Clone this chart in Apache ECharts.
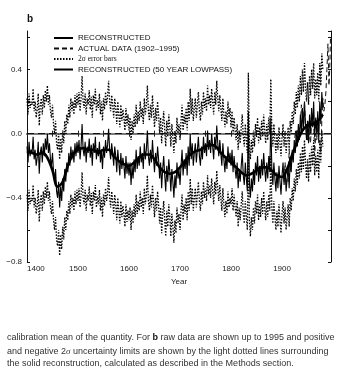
<!DOCTYPE html>
<html>
<head>
<meta charset="utf-8">
<script src="https://cdn.jsdelivr.net/npm/echarts@6/dist/echarts.min.js"></script>
<style>
html,body{margin:0;padding:0;background:#fff;}
#chart{width:345px;height:378px;}
</style>
</head>
<body>
<div id="chart"></div>
<script>
// ---- data ----
const reconStartYear = 1400;
const reconStep = 2;
const reconValues = [
-0.08,-0.18,-0.05,-0.14,-0.10,
-0.12,-0.02,-0.16,-0.10,-0.20,
-0.15,-0.05,-0.25,-0.12,-0.08,
-0.18,-0.06,-0.14,-0.03,-0.10,
0.00,-0.12,-0.06,-0.16,-0.20,
-0.12,-0.24,-0.30,-0.22,-0.36,
-0.40,-0.30,-0.46,-0.33,-0.42,
-0.28,-0.36,-0.22,-0.30,-0.18,
-0.24,-0.12,-0.20,-0.08,-0.16,
-0.10,-0.18,-0.06,-0.14,-0.05,
-0.12,-0.04,-0.16,-0.08,0.06,
-0.10,-0.14,-0.05,-0.18,-0.08,
-0.12,-0.03,-0.15,-0.07,-0.20,
-0.06,-0.12,-0.02,-0.16,-0.09,
-0.14,-0.05,-0.18,-0.10,-0.22,
-0.08,-0.15,-0.04,-0.12,-0.07,
0.03,-0.10,-0.16,-0.06,-0.12,
-0.20,-0.08,-0.14,-0.24,-0.10,
-0.18,-0.26,-0.12,-0.22,-0.15,
-0.20,-0.28,-0.14,-0.25,-0.18,
-0.26,-0.18,-0.32,-0.20,-0.28,
-0.16,-0.24,-0.10,-0.22,-0.14,
-0.20,-0.08,-0.18,-0.12,-0.22,
-0.06,-0.16,-0.10,0.02,-0.14,
-0.20,-0.10,-0.18,-0.04,-0.15,
-0.24,-0.12,-0.20,-0.08,-0.16,
-0.28,-0.18,-0.34,-0.22,-0.14,
-0.26,-0.36,-0.20,-0.30,-0.16,
-0.24,-0.36,-0.22,-0.30,-0.40,
-0.26,-0.34,-0.18,-0.28,-0.22,
-0.32,-0.20,-0.10,-0.26,-0.16,
-0.22,-0.12,-0.26,-0.08,-0.20,
0.00,-0.16,-0.06,-0.20,-0.12,
-0.06,-0.18,-0.10,-0.02,-0.14,
-0.20,-0.08,-0.16,-0.02,-0.12,
-0.06,-0.14,0.02,-0.10,-0.04,
-0.12,0.00,-0.08,-0.16,-0.02,
-0.10,0.05,-0.06,-0.14,-0.04,
-0.12,-0.20,-0.06,-0.16,-0.24,
-0.14,-0.22,-0.08,-0.18,-0.12,
-0.20,-0.10,-0.24,-0.14,-0.22,
-0.28,-0.18,-0.34,-0.22,-0.30,
-0.20,-0.12,-0.26,-0.32,-0.18,
-0.28,-0.36,0.14,-0.30,-0.40,
-0.28,-0.36,-0.22,-0.32,-0.18,
-0.26,-0.14,-0.30,-0.20,-0.28,
-0.16,-0.26,-0.12,-0.22,-0.30,
-0.18,-0.28,-0.14,-0.24,0.10,
-0.22,-0.32,-0.18,-0.28,-0.36,
-0.24,-0.34,-0.20,-0.30,-0.38,
-0.26,-0.18,-0.32,-0.22,-0.36,
-0.28,-0.20,-0.34,-0.16,-0.24,
-0.10,-0.18,-0.04,-0.12,0.02,
-0.08,0.06,-0.04,0.12,0.00,
0.16,0.02,0.20,0.06,-0.04,
0.08,-0.06,0.12,0.00,0.16,
0.04,0.20,-0.02,0.10,0.00,
0.14,-0.04,0.20,0.06,0.26,
0.16
];

// 2-sigma half width of the uncertainty band, by period start year
const twoSigmaPeriodStarts = [1400, 1600, 1800];
const twoSigmaValues = [0.30, 0.28, 0.24];

// 50-year lowpass, every 10 years from 1400
const lowpassStartYear = 1400;
const lowpassStep = 10;
const lowpassValues = [
-0.11,-0.12,-0.13,-0.12,-0.15,-0.23,-0.33,-0.30,-0.20,-0.13,
-0.10,-0.09,-0.10,-0.10,-0.12,-0.10,-0.10,-0.14,-0.17,-0.19,
-0.20,-0.18,-0.15,-0.13,-0.13,-0.16,-0.21,-0.24,-0.25,-0.24,
-0.21,-0.17,-0.13,-0.11,-0.10,-0.08,-0.07,-0.08,-0.12,-0.15,
-0.18,-0.21,-0.24,-0.26,-0.25,-0.23,-0.21,-0.21,-0.23,-0.26,
-0.27,-0.22,-0.13,-0.05,0.02,0.05,0.06,0.08,0.12
];

// instrumental ("actual") data 1902-1995
const actualYears = [1902,1904,1906,1908,1910,1912,1914,1916,1918,1920,1922,1924,1926,1928,1930,1932,1934,1936,1938,1940,1942,1944,1946,1948,1950,1952,1954,1956,1958,1960,1962,1964,1966,1968,1970,1972,1974,1976,1978,1980,1982,1984,1986,1988,1990,1991,1992,1993,1994,1995];
const actualValues = [-0.22,-0.30,-0.18,-0.32,-0.28,-0.30,-0.10,-0.24,-0.20,-0.12,-0.14,-0.10,0.02,-0.04,0.02,0.00,0.04,0.06,0.18,0.10,0.08,0.20,0.04,0.06,-0.04,0.08,-0.02,-0.06,0.12,0.06,0.08,-0.14,0.00,-0.04,0.04,-0.06,-0.04,-0.12,0.08,0.22,0.14,0.18,0.26,0.40,0.56,0.44,0.30,0.36,0.46,0.60];

const xTickYears = [1400, 1500, 1600, 1700, 1800, 1900];
const yTickLabels = [-0.8, -0.4, 0.0, 0.4];

const legendNames = ['RECONSTRUCTED', 'ACTUAL DATA (1902–1995)', '2σ error bars', 'RECONSTRUCTED (50 YEAR LOWPASS)'];

// ---- build series data ----
function sigmaFor(year) {
  let s = twoSigmaValues[0];
  for (let i = 0; i < twoSigmaPeriodStarts.length; i++) {
    if (year >= twoSigmaPeriodStarts[i]) s = twoSigmaValues[i];
  }
  return s;
}
const reconData = reconValues.map((v, i) => [reconStartYear + i * reconStep, v]);
const upperData = reconData.map(p => [p[0], +(p[1] + sigmaFor(p[0])).toFixed(3)]);
const lowerData = reconData.map(p => [p[0], +(p[1] - sigmaFor(p[0])).toFixed(3)]);
const lowpassData = lowpassValues.map((v, i) => [lowpassStartYear + i * lowpassStep, v]);
const actualData = actualYears.map((y, i) => [y, actualValues[i]]);

const FONT = '"Liberation Sans", Arial, sans-serif';
const chart = echarts.init(document.getElementById('chart'), null, {renderer: 'canvas'});

function yLabel(v) {
  const r = Math.round(v * 10) / 10;
  const ok = yTickLabels.some(t => Math.abs(t - r) < 1e-6);
  if (!ok) return '';
  return (r < 0 ? '−' : '') + Math.abs(r).toFixed(1);
}
function xLabel(v) {
  return xTickYears.indexOf(Math.round(v)) >= 0 ? String(Math.round(v)) : '';
}

const option = {
  backgroundColor: '#fff',
  animation: false,
  grid: {left: 27, right: 14, top: 31, bottom: 116, containLabel: false},
  legend: {
    orient: 'vertical',
    left: 53,
    top: 34,
    padding: 0,
    itemWidth: 19,
    itemHeight: 8,
    itemGap: 2.5,
    selectedMode: false,
    data: legendNames,
    itemStyle: {opacity: 0, borderWidth: 0},
    textStyle: {
      fontFamily: FONT, fontSize: 8, color: '#111', lineHeight: 8,
      rich: {s: {fontFamily: '"Liberation Serif", "DejaVu Serif", serif', fontSize: 7.5, color: '#111'}}
    },
    formatter: name => name === '2σ error bars' ? '{s|2σ error bars}' : name
  },
  xAxis: [{
    type: 'value', min: 1400, max: 1996, interval: 50,
    name: 'Year', nameLocation: 'middle', nameGap: 14,
    nameTextStyle: {fontFamily: FONT, fontSize: 8, color: '#222'},
    axisLine: {show: true, lineStyle: {color: '#7a7a7a', width: 2}},
    axisTick: {show: true, inside: true, length: 3, lineStyle: {color: '#222', width: 1}},
    axisLabel: {formatter: xLabel, fontFamily: FONT, fontSize: 8, color: '#222', margin: 3, showMaxLabel: false, alignMinLabel: 'left'},
    splitLine: {show: false}
  }, {
    type: 'value', min: 1400, max: 1996, interval: 50, position: 'top',
    axisLine: {show: true, lineStyle: {color: '#7a7a7a', width: 2}},
    axisTick: {show: true, inside: true, length: 3, lineStyle: {color: '#222', width: 1}},
    axisLabel: {show: false},
    splitLine: {show: false}
  }],
  yAxis: [{
    type: 'value', min: -0.8, max: 0.64, interval: 0.2,
    axisLine: {show: true, lineStyle: {color: '#111', width: 1}},
    axisTick: {show: true, inside: true, length: 3, lineStyle: {color: '#111', width: 1}},
    axisLabel: {formatter: yLabel, fontFamily: FONT, fontSize: 8, color: '#222', margin: 5, showMaxLabel: false},
    splitLine: {show: false}
  }, {
    type: 'value', min: -0.8, max: 0.64, interval: 0.2, position: 'right',
    axisLine: {show: true, lineStyle: {color: '#111', width: 1}},
    axisTick: {show: true, inside: true, length: 3, lineStyle: {color: '#111', width: 1}},
    axisLabel: {show: false},
    splitLine: {show: false}
  }],
  series: [
    {
      name: '2σ error bars', type: 'line', data: upperData, symbol: 'none',
      lineStyle: {color: '#000', width: 1.3, type: [1.5, 1.5]}, itemStyle: {color: '#000'}, z: 2
    },
    {
      name: '2σ error bars', type: 'line', data: lowerData, symbol: 'none',
      lineStyle: {color: '#000', width: 1.3, type: [1.5, 1.5]}, itemStyle: {color: '#000'}, z: 2
    },
    {
      name: 'RECONSTRUCTED', type: 'line', data: reconData, symbol: 'none',
      lineStyle: {color: '#000', width: 1.1}, itemStyle: {color: '#000'}, z: 3,
      markLine: {
        silent: true, symbol: 'none', label: {show: false},
        lineStyle: {color: '#111', width: 1, type: [7, 4]},
        data: [{yAxis: 0}]
      }
    },
    {
      name: 'ACTUAL DATA (1902–1995)', type: 'line', data: actualData, symbol: 'none',
      lineStyle: {color: '#111', width: 1, type: [5, 3]}, itemStyle: {color: '#111'}, z: 4
    },
    {
      name: 'RECONSTRUCTED (50 YEAR LOWPASS)', type: 'line', data: lowpassData, symbol: 'none', smooth: 0.4,
      lineStyle: {color: '#000', width: 2.6}, itemStyle: {color: '#000'}, z: 5
    }
  ],
  graphic: [
    {type: 'text', left: 27, top: 14, style: {text: 'b', font: 'bold 10px ' + FONT, fill: '#111'}},
    {type: 'text', left: 7, top: 333, style: {
      text: 'calibration mean of the quantity. For {b|b} raw data are shown up to 1995 and positive',
      font: '9px ' + FONT, fill: '#333',
      rich: {b: {fontFamily: FONT, fontSize: 9, fontWeight: 'bold', fill: '#111'}}
    }},
    {type: 'text', left: 7, top: 347, style: {
      text: 'and negative 2{i|σ} uncertainty limits are shown by the light dotted lines surrounding',
      font: '9px ' + FONT, fill: '#333',
      rich: {i: {fontFamily: '"Liberation Serif", serif', fontSize: 9, fontStyle: 'italic', fill: '#333'}}
    }},
    {type: 'text', left: 7, top: 359, style: {
      text: 'the solid reconstruction, calculated as described in the Methods section.',
      font: '9px ' + FONT, fill: '#333'
    }}
  ]
};
chart.setOption(option);
</script>
</body>
</html>
